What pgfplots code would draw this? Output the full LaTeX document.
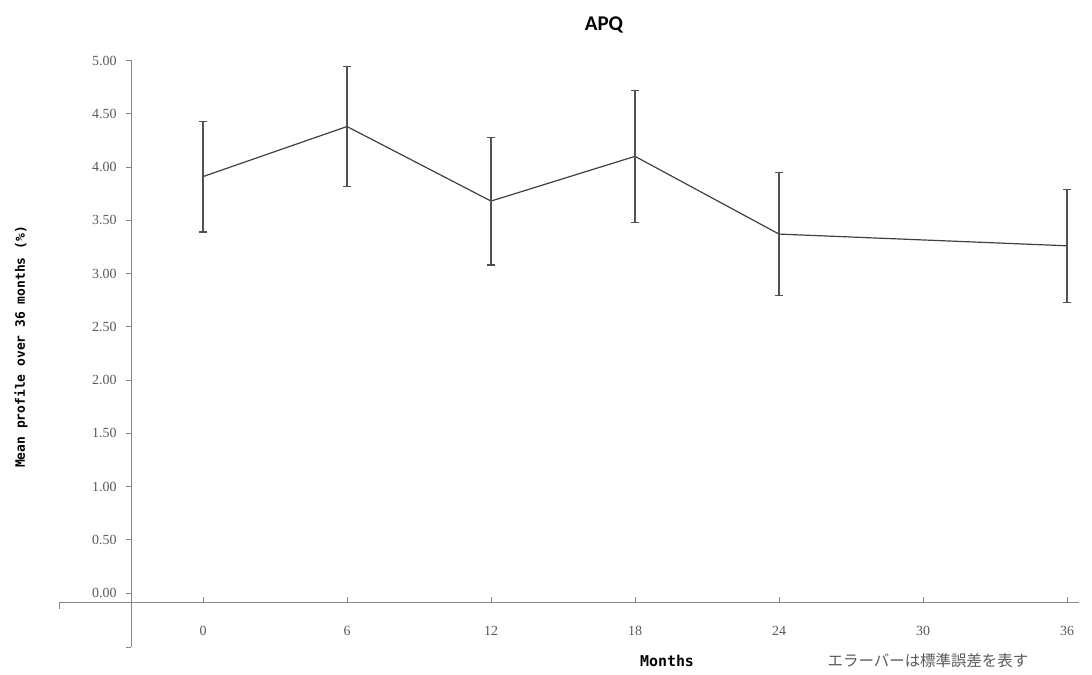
\documentclass[border=0pt]{standalone}
\usepackage{pgfplots}
\pgfplotsset{compat=1.18}
\usepackage{fontspec}
\setmainfont{Liberation Serif}
\newfontfamily\titlefont{Carlito}
\newfontfamily\labfont{DejaVu Sans Mono}
\newfontfamily\cjk{Noto Sans CJK JP}
\definecolor{axgray}{HTML}{868686}
\definecolor{txtgray}{HTML}{595959}
\definecolor{linegray}{HTML}{404040}
\definecolor{errgray}{HTML}{505050}

\begin{document}
\begin{tikzpicture}
\begin{axis}[
  at={(0,0)}, anchor=origin,
  x=24bp, y=106.5bp,
  xmin=-3, xmax=36.5, ymin=-0.51, ymax=5,
  axis y line=left, axis x line=none,
  axis line style={-, axgray, line width=0.8bp},
  ytick={0,0.5,1,1.5,2,2.5,3,3.5,4,4.5,5},
  extra y ticks={-0.51}, extra y tick labels={},
  tick align=outside, major tick length=5bp,
  every tick/.style={axgray, line width=0.8bp},
  yticklabel style={font=\fontsize{14}{14}\selectfont, text=txtgray, xshift=-6bp},
  yticklabel={\pgfmathprintnumber[fixed, fixed zerofill, precision=2, assume math mode=true]{\tick}},
  clip=false,
]
\addplot[color=linegray, line width=1.2bp, no markers,
  error bars/.cd, y dir=both, y explicit,
  error bar style={errgray, line width=1.2bp},
  error mark options={errgray, rotate=90, mark size=4bp, line width=1.2bp}]
  coordinates {
    (0,3.91) +- (0,0.52)
    (6,4.38) +- (0,0.56)
    (12,3.68) +- (0,0.60)
    (18,4.10) +- (0,0.62)
    (24,3.37) +- (0,0.58)
    (36,3.26) +- (0,0.53)
  };
\end{axis}
\begin{axis}[
  at={(0,0)}, anchor=origin,
  x=24bp, y=106.5bp,
  xmin=-6, xmax=36.5, ymin=-0.09, ymax=0,
  axis x line=bottom, axis y line=none,
  axis line style={-, axgray, line width=0.8bp},
  xtick={0,6,12,18,24,30,36},
  extra x ticks={-6}, extra x tick labels={},
  extra x tick style={tick align=outside},
  tick align=inside, major tick length=6bp,
  every tick/.style={axgray, line width=0.8bp},
  xticklabel style={font=\fontsize{14}{14}\selectfont, text=txtgray, yshift=-20bp},
  xticklabel={\pgfmathprintnumber[assume math mode=true]{\tick}},
]
\end{axis}
\node[font=\titlefont\bfseries\fontsize{21}{21}\selectfont, text=black] at (401bp,568bp) {APQ};
\node[font=\labfont\bfseries\fontsize{13}{13}\selectfont, rotate=90] at (-182bp,246bp) {Mean profile over 36 months (\%)};
\node[font=\labfont\bfseries\fontsize{15}{15}\selectfont] at (464bp,-68bp) {Months};
\node[font=\cjk\fontsize{15.5}{15.5}\selectfont, text=txtgray] at (725bp,-68bp) {エラーバーは標準誤差を表す};
\pgfresetboundingbox
\useasboundingbox (-203bp,593bp) rectangle (889bp,-82bp);
\end{tikzpicture}
\end{document}
